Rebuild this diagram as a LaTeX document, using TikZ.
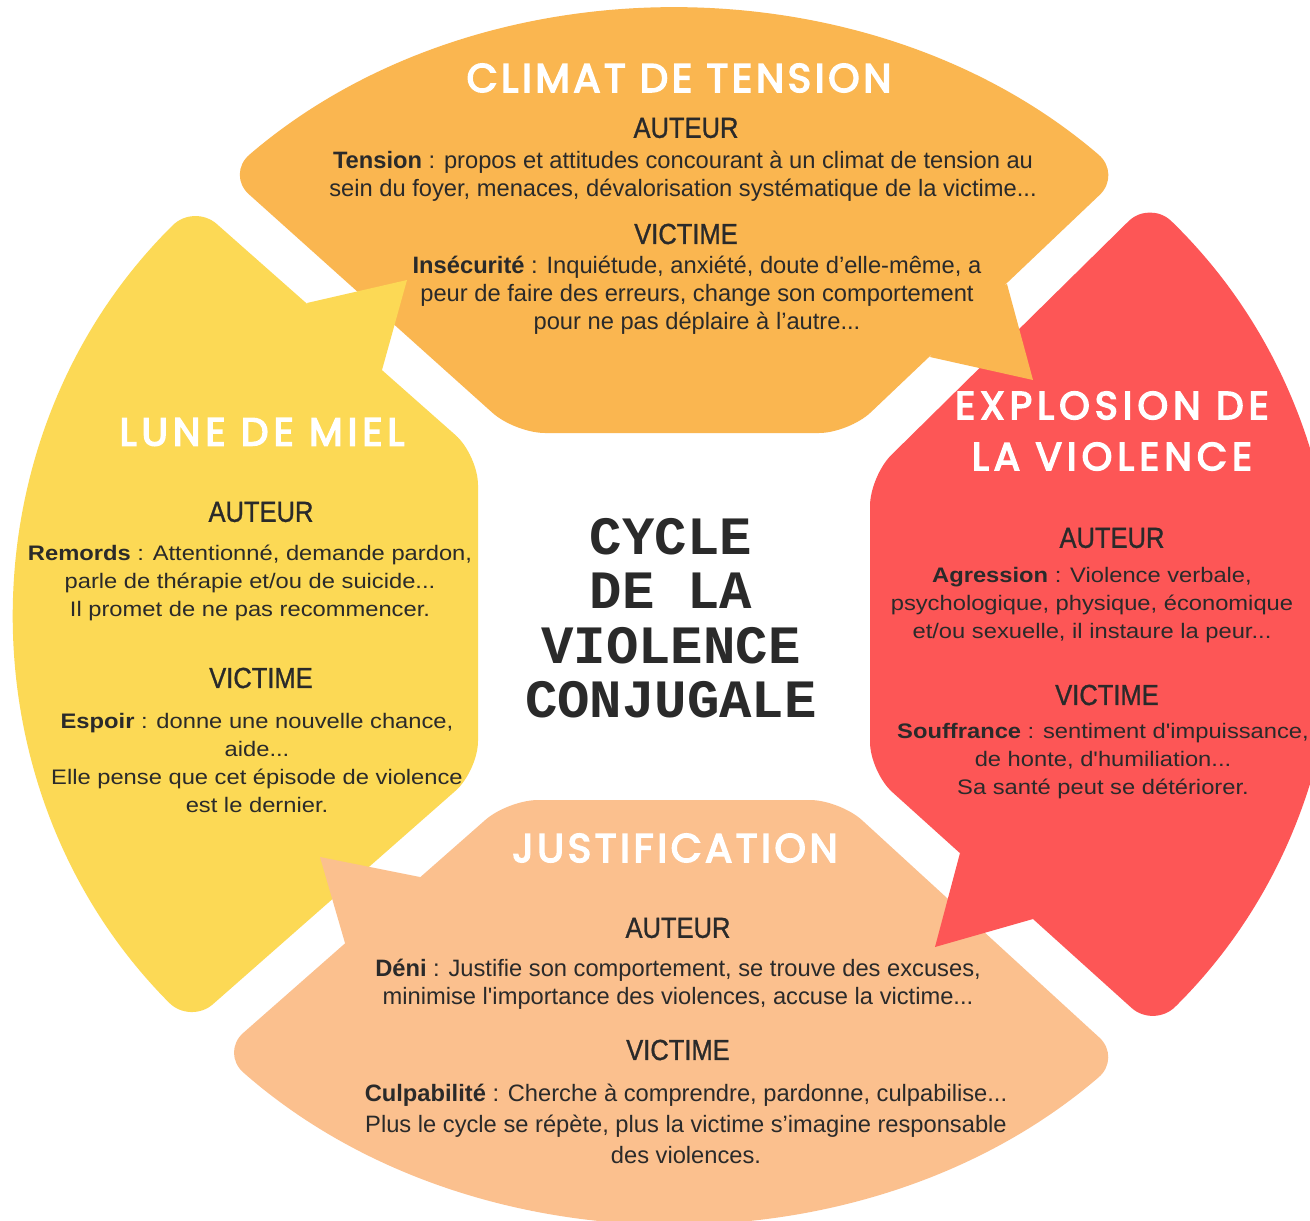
\documentclass[tikz,border=0pt]{standalone}
\usepackage{fontspec}
\setmainfont{Liberation Sans}
\newfontfamily\titlefont{Poppins}[LetterSpace=9,FakeBold=4]
\newfontfamily\titlewide{Poppins}[LetterSpace=13,FakeBold=4]
\newfontfamily\narrowfont{Liberation Sans}
\newfontfamily\widefont{Liberation Sans}[FakeStretch=1.13]
\newfontfamily\headfont{Liberation Sans}[FakeStretch=0.88,FakeBold=1]
\newfontfamily\cyclefont{Liberation Mono}
\usetikzlibrary{calc}

\definecolor{tensioncol}{HTML}{FAB650}
\definecolor{explosioncol}{HTML}{FD5656}
\definecolor{justifcol}{HTML}{FBC08E}
\definecolor{mielcol}{HTML}{FCD955}
\definecolor{ink}{HTML}{2A2A2A}

\tikzset{
  title/.style={text=white, align=center, inner sep=0pt,
                font=\titlefont\fontsize{40}{51}\selectfont},
  titlew/.style={title, font=\titlewide\fontsize{39}{51}\selectfont},
  head/.style={text=ink, inner sep=0pt, font=\headfont\fontsize{29}{32}\selectfont},
  txtn/.style={text=ink, align=center, inner sep=0pt,
               font=\narrowfont\fontsize{23.7}{28}\selectfont},
  txtw/.style={text=ink, align=center, inner sep=0pt,
               font=\widefont\fontsize{21}{28}\selectfont},
  blob/.style={rounded corners=30pt}
}

\begin{document}
\begin{tikzpicture}[x=1pt,y=1pt]
  \clip (0,0) rectangle (1310,-1221);
  \fill[white] (0,0) rectangle (1310,-1221);
  \coordinate (C) at (674,-616);

  % the four phases
  \fill[tensioncol,blob] ($(C)+(47:656pt and 604pt)$)
      arc[start angle=47, end angle=133, x radius=656pt, y radius=604pt]
      -- (515,-433) -- (849,-433) -- cycle;
  \fill[explosioncol,blob] ($(C)+(43.5:656pt and 604pt)$)
      arc[start angle=43.5, end angle=-43, x radius=656pt, y radius=604pt]
      -- (870,-772) -- (870,-476) -- cycle;
  \fill[justifcol,blob] ($(C)+(-47:656pt and 604pt)$)
      arc[start angle=-47, end angle=-133.7, x radius=656pt, y radius=604pt]
      -- (508,-800) -- (840,-800) -- cycle;
  \fill[mielcol,blob] ($(C)+(137:656pt and 604pt)$)
      arc[start angle=137, end angle=222.5, x radius=656pt, y radius=604pt]
      -- (478,-771) -- (478,-455) -- cycle;

  % tails
  \fill[mielcol] (307,-303) -- (407,-280) -- (382,-370) -- (330,-360) -- cycle;
  \fill[tensioncol] (1007,-284) -- (1033,-380) -- (930,-357) -- (960,-300) -- cycle;
  \fill[explosioncol] (960,-853) -- (935,-947) -- (1033,-919) -- (1010,-870) -- cycle;
  \fill[justifcol] (420,-877) -- (320,-857) -- (345,-943) -- (400,-930) -- cycle;

  % climat de tension
  \node[title] (ttitle) at (679,-78) {CLIMAT DE TENSION};
  \node[head] (tauth) at (686,-128) {AUTEUR};
  \node[txtn] (tauthtxt) at (683,-176) {\textbf{Tension} : propos et attitudes concourant à un climat de tension au\\
    sein du foyer, menaces, dévalorisation systématique de la victime...};
  \node[head] (tvict) at (686,-234) {VICTIME};
  \node[txtn] (tvicttxt) at (697,-295) {\textbf{Insécurité} : Inquiétude, anxiété, doute d’elle-même, a\\
    peur de faire des erreurs, change son comportement\\
    pour ne pas déplaire à l’autre...};

  % explosion
  \node[titlew] (rtitle) at (1112,-431) {EXPLOSION DE\\LA VIOLENCE};
  \node[head] (rauth) at (1112,-538) {AUTEUR};
  \node[txtw] (rauthtxt) at (1092,-605) {\textbf{Agression} : Violence verbale,\\
    psychologique, physique, économique\\
    et/ou sexuelle, il instaure la peur...};
  \node[head] (rvict) at (1107,-695) {VICTIME};
  \node[txtw] (rvicttxt) at (1103,-761) {\textbf{Souffrance} : sentiment d'impuissance,\\
    de honte, d'humiliation...\\
    Sa santé peut se détériorer.};

  % justification
  \node[title] (btitle) at (675,-848) {JUSTIFICATION};
  \node[head] (bauth) at (678,-928) {AUTEUR};
  \node[txtn] (bauthtxt) at (678,-984) {\textbf{Déni} : Justifie son comportement, se trouve des excuses,\\
    minimise l'importance des violences, accuse la victime...};
  \node[head] (bvict) at (678,-1050) {VICTIME};
  \node[txtn,font=\narrowfont\fontsize{23.7}{31}\selectfont] (bvicttxt) at (686,-1124)
    {\textbf{Culpabilité} : Cherche à comprendre, pardonne, culpabilise...\\
    Plus le cycle se répète, plus la victime s’imagine responsable\\
    des violences.};

  % lune de miel
  \node[titlew] (ltitle) at (262,-432) {LUNE DE MIEL};
  \node[head] (lauth) at (261,-512) {AUTEUR};
  \node[txtw] (lauthtxt) at (250,-583) {\textbf{Remords} : Attentionné, demande pardon,\\
    parle de thérapie et/ou de suicide...\\
    Il promet de ne pas recommencer.};
  \node[head] (lvict) at (261,-678) {VICTIME};
  \node[txtw] (lvicttxt) at (257,-763) {\textbf{Espoir} : donne une nouvelle chance,\\
    aide...\\
    Elle pense que cet épisode de violence\\
    est le dernier.};

  % centre
  \node[text=ink, align=center, inner sep=0pt,
        font=\cyclefont\bfseries\fontsize{54}{54.5}\selectfont] (cycle) at (671,-618)
    {CYCLE\\DE LA\\VIOLENCE\\CONJUGALE};
\end{tikzpicture}
\end{document}
